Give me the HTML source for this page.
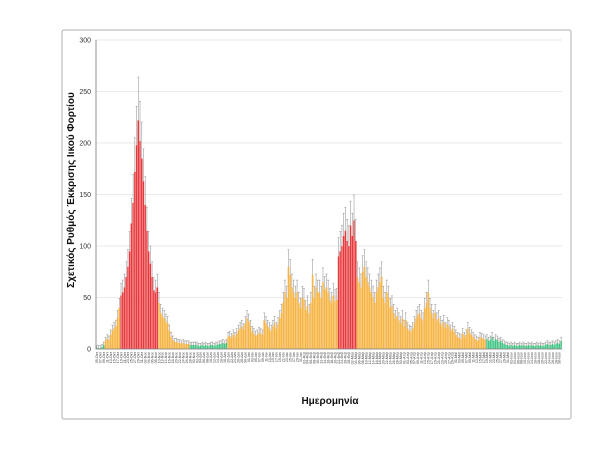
<!DOCTYPE html>
<html><head><meta charset="utf-8"><style>
body{margin:0;background:#fff;width:600px;height:444px;overflow:hidden;font-family:"Liberation Sans",sans-serif}
</style></head><body>
<svg id="c" width="600" height="444" xmlns="http://www.w3.org/2000/svg">
<rect x="62" y="30" width="509" height="389" fill="#fff" stroke="#bdbdbd" stroke-width="1.2" rx="2"/>
<text x="74" y="190" transform="rotate(-90 74 190)" text-anchor="middle" font-size="10" font-weight="bold" fill="#111">Σχετικός Ρυθμός Έκκρισης Ιικού Φορτίου</text>
<text x="330" y="404" text-anchor="middle" font-size="10" font-weight="bold" fill="#111">Ημερομηνία</text>
<g id="g"></g>
</svg>
<script>
const values=[1,1,1,2,4,
8,10,9,14,18,20,22,30,40,
52,55,60,70,80,95,122,142,172,198,222,202,185,163,140,115,95,83,70,57,55,60,
45,35,32,30,27,25,18,12,9,7,7,6,6,5,6,5,5,5,
4,4,4,4,4,3,3,4,3,4,3,3,4,4,3,4,4,5,5,6,5,6,
12,13,11,14,12,15,18,20,22,19,25,30,27,22,17,15,13,14,16,15,14,28,25,22,20,18,22,25,20,24,
30,35,45,55,50,80,72,60,55,50,55,45,40,50,48,38,42,35,45,72,
50,60,55,55,50,65,58,60,55,48,45,52,47,48,
90,95,100,110,115,105,100,120,110,125,105,
70,65,60,75,80,70,65,60,55,50,45,55,60,65,70,50,45,55,50,40,42,35,30,32,28,25,30,22,28,20,
18,17,20,25,30,33,35,30,28,40,45,55,40,35,30,35,28,30,25,22,26,20,24,22,18,20,17,14,12,11,
10,15,12,14,20,16,14,12,10,9,8,12,11,10,9,
10,8,9,12,8,10,9,7,8,6,5,4,4,3,4,3,4,3,3,4,3,4,3,3,4,3,4,3,3,4,3,4,3,3,4,5,4,4,5,4,5,6,5,8];
const levels=["g","g","g","g","g","o","o","o","o","o","o","o","o","o"];
const yTicks=[0,50,100,150,200,250,300];
const months=["Ιαν","Φεβ","Μαρ","Απρ","Μαϊ","Ιουν","Ιουλ","Αυγ","Σεπ","Οκτ","Νοε","Δεκ"];
const startDate=[2020,9,5];
const segs=[[0,4,"g"],[5,13,"o"],[14,35,"r"],[36,53,"o"],[54,75,"g"],[76,139,"o"],[140,150,"r"],[151,225,"o"],[226,269,"g"]];
const NS="http://www.w3.org/2000/svg";
const g=document.getElementById('g');
const X0=96,X1=562,Y0=349,Y1=40;
const n=values.length,bw=(X1-X0)/n;
const y=v=>Y0-(v/300)*(Y0-Y1);
const xb=i=>X0+i*bw;
function mk(t,a){const e=document.createElementNS(NS,t);for(const k in a)e.setAttribute(k,a[k]);g.appendChild(e);return e;}
yTicks.forEach(t=>{
 if(t>0){const l=mk('line',{x1:X0,x2:X1,y1:y(t),y2:y(t),stroke:'#e3e3e3','stroke-width':0.8});
 
 }
 const tx=mk('text',{x:91,y:y(t)+2.5,'text-anchor':'end','font-size':7,fill:'#333'});tx.textContent=t;
 
 
});
const col={r:'#e8383f',o:'#f6b53e',g:'#38c98a'};
const cat=i=>{for(const s of segs)if(i>=s[0]&&i<=s[1])return s[2];return 'o';};
values.forEach((v,i)=>{
 const c=cat(i);
 const r=mk('rect',{x:xb(i),y:y(v),width:bw,height:Y0-y(v),fill:col[c],stroke:'#fbe3d6','stroke-width':0.3});
 
 
 const e=v*0.18+2,cx=xb(i)+bw/2;
 const l=mk('path',{d:`M${cx},${y(v)}V${y(v+e)}M${cx-1},${y(v+e)}H${cx+1}`,stroke:'#8a8a8a','stroke-width':0.5,fill:'none'});
 
 
});
const ax=mk('path',{d:`M${X0},${Y1}V${Y0}H${X1}`,stroke:'#777','stroke-width':0.8,fill:'none'});


for(let i=0;i<n;i+=2){
 const d=new Date(startDate[0],startDate[1],startDate[2]+i);
 const s=String(d.getDate()).padStart(2,'0')+'-'+months[d.getMonth()];
 const px=xb(i)+bw/2+1.3,py=352;
 const t=mk('text',{x:px,y:py,transform:`rotate(-90 ${px} ${py})`,'text-anchor':'end','font-size':3.6,fill:'#444'});
 t.textContent=s;
 
 
}
</script>
</body></html>
